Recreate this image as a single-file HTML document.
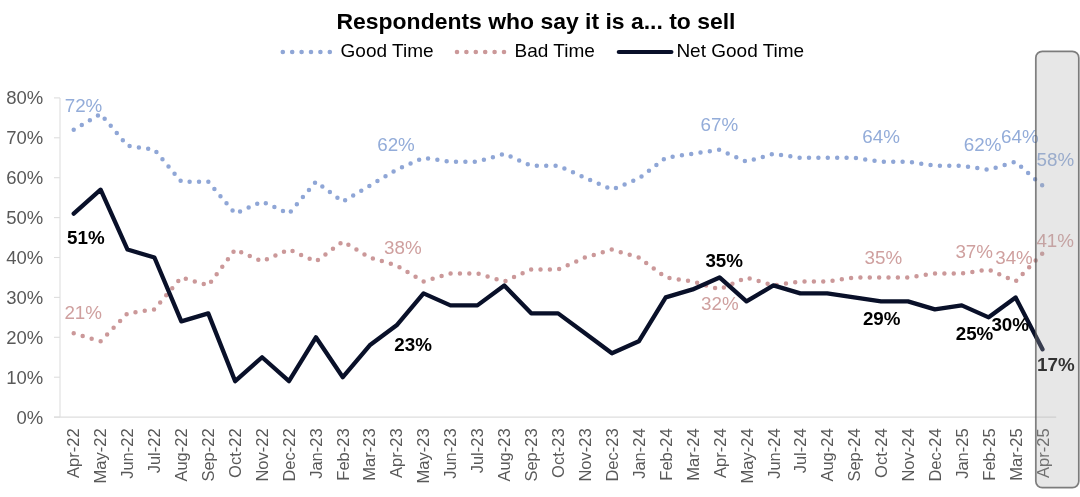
<!DOCTYPE html>
<html lang="en"><head><meta charset="utf-8"><title>Respondents who say it is a... to sell</title>
<style>html,body{margin:0;padding:0;background:#fff;}body{width:1080px;height:497px;overflow:hidden;}svg{display:block;}text{font-family:"Liberation Sans", Arial, sans-serif;}</style></head><body>
<svg width="1080" height="497" viewBox="0 0 1080 497">
<rect width="1080" height="497" fill="#ffffff"/>
<text x="536.0" y="28.6" text-anchor="middle" font-size="22.95" font-weight="700" fill="#000">Respondents who say it is a... to sell</text>
<line x1="282.8" y1="52" x2="331" y2="52" stroke="#8fa6d6" stroke-width="4.6" stroke-linecap="round" stroke-dasharray="0 9.4"/>
<text x="340.6" y="57.3" font-size="19" fill="#000">Good Time</text>
<line x1="457" y1="52" x2="505" y2="52" stroke="#cb9899" stroke-width="4.6" stroke-linecap="round" stroke-dasharray="0 9.4"/>
<text x="514.6" y="57.3" font-size="19" fill="#000">Bad Time</text>
<line x1="618.8" y1="52" x2="671.4" y2="52" stroke="#091029" stroke-width="4.2" stroke-linecap="round"/>
<text x="676.4" y="57.3" font-size="19" fill="#000">Net Good Time</text>
<g stroke="#dedede" stroke-width="1.1" fill="none">
<line x1="60.0" y1="97.9" x2="60.0" y2="417.1"/>
<line x1="54.0" y1="417.1" x2="1056.2" y2="417.1"/>
<line x1="54.0" y1="417.1" x2="60.0" y2="417.1"/>
<line x1="54.0" y1="377.2" x2="60.0" y2="377.2"/>
<line x1="54.0" y1="337.3" x2="60.0" y2="337.3"/>
<line x1="54.0" y1="297.4" x2="60.0" y2="297.4"/>
<line x1="54.0" y1="257.5" x2="60.0" y2="257.5"/>
<line x1="54.0" y1="217.6" x2="60.0" y2="217.6"/>
<line x1="54.0" y1="177.7" x2="60.0" y2="177.7"/>
<line x1="54.0" y1="137.8" x2="60.0" y2="137.8"/>
<line x1="54.0" y1="97.9" x2="60.0" y2="97.9"/>
</g>
<g font-size="18.5" fill="#595959" text-anchor="end">
<text x="43.3" y="423.5">0%</text>
<text x="43.3" y="383.6">10%</text>
<text x="43.3" y="343.7">20%</text>
<text x="43.3" y="303.8">30%</text>
<text x="43.3" y="263.9">40%</text>
<text x="43.3" y="224.0">50%</text>
<text x="43.3" y="184.1">60%</text>
<text x="43.3" y="144.2">70%</text>
<text x="43.3" y="104.3">80%</text>
</g>
<g font-size="16.5" fill="#595959" text-anchor="end">
<text transform="translate(79.1,428.4) rotate(-90)">Apr-22</text>
<text transform="translate(106.0,428.4) rotate(-90)">May-22</text>
<text transform="translate(133.0,428.4) rotate(-90)">Jun-22</text>
<text transform="translate(159.9,428.4) rotate(-90)">Jul-22</text>
<text transform="translate(186.9,428.4) rotate(-90)">Aug-22</text>
<text transform="translate(213.8,428.4) rotate(-90)">Sep-22</text>
<text transform="translate(240.7,428.4) rotate(-90)">Oct-22</text>
<text transform="translate(267.7,428.4) rotate(-90)">Nov-22</text>
<text transform="translate(294.6,428.4) rotate(-90)">Dec-22</text>
<text transform="translate(321.5,428.4) rotate(-90)">Jan-23</text>
<text transform="translate(348.5,428.4) rotate(-90)">Feb-23</text>
<text transform="translate(375.4,428.4) rotate(-90)">Mar-23</text>
<text transform="translate(402.4,428.4) rotate(-90)">Apr-23</text>
<text transform="translate(429.3,428.4) rotate(-90)">May-23</text>
<text transform="translate(456.2,428.4) rotate(-90)">Jun-23</text>
<text transform="translate(483.2,428.4) rotate(-90)">Jul-23</text>
<text transform="translate(510.1,428.4) rotate(-90)">Aug-23</text>
<text transform="translate(537.0,428.4) rotate(-90)">Sep-23</text>
<text transform="translate(564.0,428.4) rotate(-90)">Oct-23</text>
<text transform="translate(590.9,428.4) rotate(-90)">Nov-23</text>
<text transform="translate(617.9,428.4) rotate(-90)">Dec-23</text>
<text transform="translate(644.8,428.4) rotate(-90)">Jan-24</text>
<text transform="translate(671.7,428.4) rotate(-90)">Feb-24</text>
<text transform="translate(698.7,428.4) rotate(-90)">Mar-24</text>
<text transform="translate(725.6,428.4) rotate(-90)">Apr-24</text>
<text transform="translate(752.5,428.4) rotate(-90)">May-24</text>
<text transform="translate(779.5,428.4) rotate(-90)">Jun-24</text>
<text transform="translate(806.4,428.4) rotate(-90)">Jul-24</text>
<text transform="translate(833.4,428.4) rotate(-90)">Aug-24</text>
<text transform="translate(860.3,428.4) rotate(-90)">Sep-24</text>
<text transform="translate(887.2,428.4) rotate(-90)">Oct-24</text>
<text transform="translate(914.2,428.4) rotate(-90)">Nov-24</text>
<text transform="translate(941.1,428.4) rotate(-90)">Dec-24</text>
<text transform="translate(968.1,428.4) rotate(-90)">Jan-25</text>
<text transform="translate(995.0,428.4) rotate(-90)">Feb-25</text>
<text transform="translate(1021.9,428.4) rotate(-90)">Mar-25</text>
<text transform="translate(1048.9,428.4) rotate(-90)">Apr-25</text>
</g>
<polyline points="73.70,129.82 100.61,113.86 127.52,145.78 154.43,149.77 181.34,181.69 208.25,181.69 235.17,213.61 262.08,201.64 288.99,213.61 315.90,181.69 342.81,201.64 369.72,185.68 396.63,169.72 423.54,157.75 450.45,161.74 477.37,161.74 504.28,153.76 531.19,165.73 558.10,165.73 585.01,177.70 611.92,189.67 638.83,178.50 665.74,157.75 692.65,153.76 719.56,149.77 746.48,161.74 773.39,153.76 800.30,157.75 827.21,157.75 854.12,157.75 881.03,161.74 907.94,161.74 934.85,165.73 961.76,165.73 988.67,169.72 1015.59,161.74 1042.50,185.68" fill="none" stroke="#8fa6d6" stroke-width="4.5" stroke-linecap="round" stroke-linejoin="round" stroke-dasharray="0 9.3917"/>
<polyline points="73.70,333.31 100.61,341.29 127.52,313.36 154.43,309.37 181.34,277.45 208.25,285.43 235.17,249.52 262.08,261.49 288.99,249.52 315.90,261.49 342.81,241.54 369.72,257.50 396.63,265.48 423.54,281.44 450.45,273.46 477.37,273.46 504.28,281.44 531.19,269.47 558.10,269.47 585.01,257.50 611.92,249.52 638.83,257.50 665.74,277.45 692.65,281.44 719.56,289.42 746.48,277.45 773.39,285.43 800.30,281.44 827.21,281.44 854.12,277.45 881.03,277.45 907.94,277.45 934.85,273.46 961.76,273.46 988.67,269.47 1015.59,281.44 1042.50,253.51" fill="none" stroke="#cb9899" stroke-width="4.5" stroke-linecap="round" stroke-linejoin="round" stroke-dasharray="0 9.3635"/>
<polyline points="73.70,213.61 100.61,189.67 127.52,249.52 154.43,257.50 181.34,321.34 208.25,313.36 235.17,381.19 262.08,357.25 288.99,381.19 315.90,337.30 342.81,377.20 369.72,345.28 396.63,325.33 423.54,293.41 450.45,305.38 477.37,305.38 504.28,285.43 531.19,313.36 558.10,313.36 585.01,333.31 611.92,353.26 638.83,341.29 665.74,297.40 692.65,289.42 719.56,277.45 746.48,301.39 773.39,285.43 800.30,293.41 827.21,293.41 854.12,297.40 881.03,301.39 907.94,301.39 934.85,309.37 961.76,305.38 988.67,317.35 1015.59,297.40 1042.50,349.27" fill="none" stroke="#091029" stroke-width="4.3" stroke-linecap="round" stroke-linejoin="round"/>
<g font-size="18.8" fill="#93acd9">
<text x="64.7" y="111.6">72%</text>
<text x="377.2" y="150.9">62%</text>
<text x="700.6" y="130.7">67%</text>
<text x="862.3" y="142.9">64%</text>
<text x="963.8" y="150.5">62%</text>
<text x="1001.0" y="142.5">64%</text>
<text x="1036.5" y="166.3">58%</text>
</g>
<g font-size="18.8" fill="#cfa09f">
<text x="64.4" y="318.7">21%</text>
<text x="384.0" y="254.3">38%</text>
<text x="701.0" y="310.4">32%</text>
<text x="864.6" y="264.2">35%</text>
<text x="955.4" y="258.4">37%</text>
<text x="995.2" y="264.1">34%</text>
<text x="1036.4" y="247.2">41%</text>
</g>
<g font-size="18.8" font-weight="700" fill="#000">
<text x="67.1" y="243.8">51%</text>
<text x="394.3" y="350.9">23%</text>
<text x="705.4" y="267.3">35%</text>
<text x="862.9" y="324.7">29%</text>
<text x="955.7" y="340.0">25%</text>
<text x="991.4" y="331.2">30%</text>
<text x="1037.0" y="370.9">17%</text>
</g>
<rect x="1035.8" y="51.3" width="43.0" height="436.4" rx="6.5" ry="6.5" fill="rgba(172,172,172,0.29)" stroke="rgba(80,80,80,0.72)" stroke-width="1.7"/>
</svg></body></html>
